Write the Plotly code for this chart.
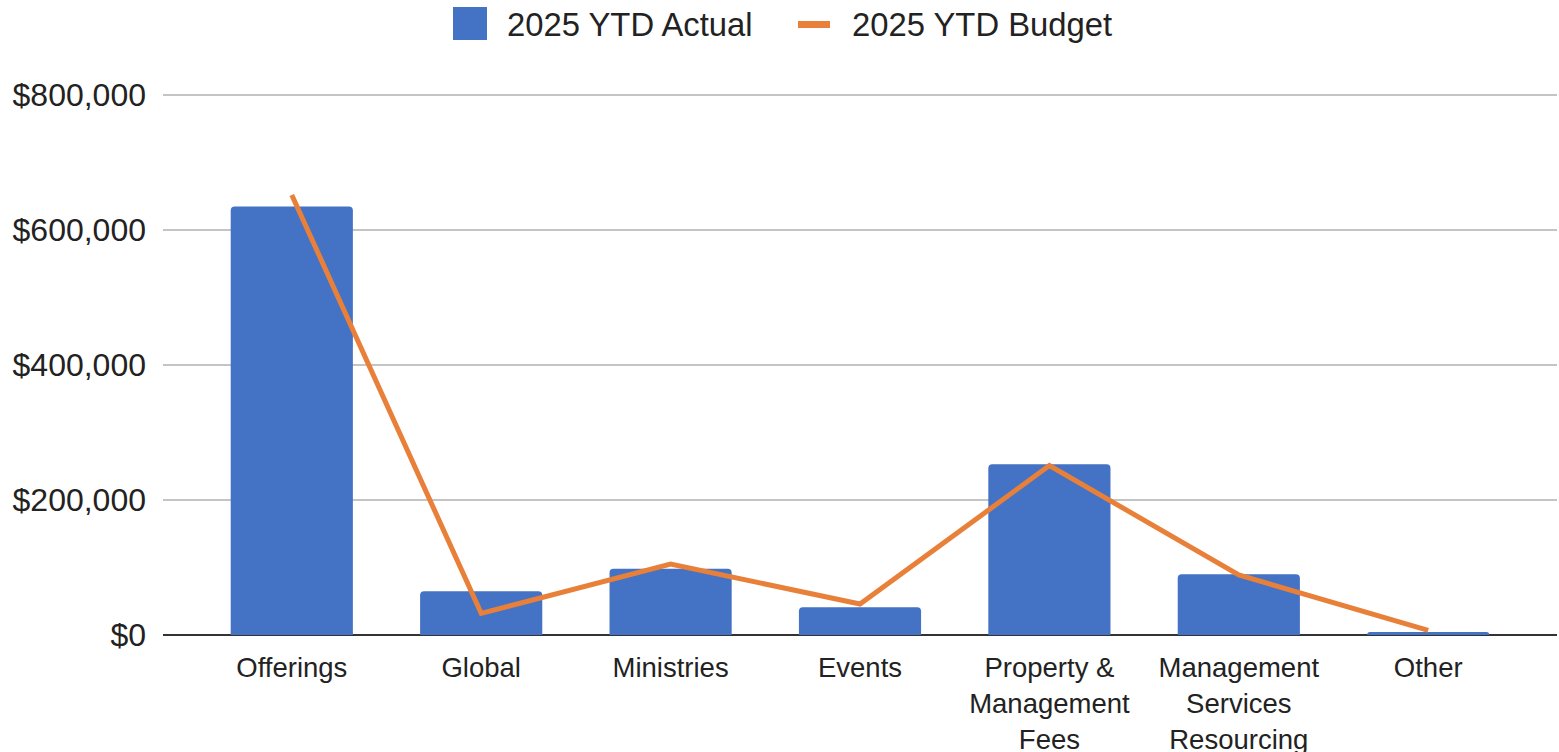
import plotly.graph_objects as go

categories = ["Offerings", "Global", "Ministries", "Events",
              "Property &<br>Management<br>Fees",
              "Management<br>Services<br>Resourcing", "Other"]
actual = [635000, 65000, 98000, 41000, 253000, 90000, 4500]
budget = [652000, 32000, 105000, 46000, 251000, 89000, 7000]
y_ticks = [0, 200000, 400000, 600000, 800000]
y_tick_labels = ["$0", "$200,000", "$400,000", "$600,000", "$800,000"]
series_names = ["2025 YTD Actual", "2025 YTD Budget"]

FONT = "Liberation Sans, Arial, sans-serif"
BLUE = "#4472C4"
ORANGE = "#E8803A"
W, H = 1559, 752
# plot area page positions: left 163, right 1557, top 93, bottom 635
ML, MT = 163, 93
MR = W - 1557
MB = H - 635
PW, PH = W - ML - MR, H - MT - MB


def px_x(p):
    # pixel -> paper coordinate
    return (p - ML) / PW


def px_y(p):
    return (H - MB - p) / PH


fig = go.Figure()
fig.add_trace(go.Bar(
    x=categories, y=actual, name=series_names[0],
    marker=dict(color=BLUE, line=dict(width=0)),
))
fig.add_trace(go.Scatter(
    x=categories, y=budget, name=series_names[1], mode="lines",
    line=dict(color=ORANGE, width=5),
))

# legend drawn manually (large swatches like the reference)
shapes = [
    dict(type="rect", xref="paper", yref="paper",
         x0=px_x(453), x1=px_x(487), y0=px_y(40), y1=px_y(7),
         fillcolor=BLUE, line=dict(width=0)),
    dict(type="rect", xref="paper", yref="paper",
         x0=px_x(798), x1=px_x(830), y0=px_y(28), y1=px_y(21),
         fillcolor=ORANGE, line=dict(width=0)),
]
annotations = [
    dict(text=series_names[0], xref="paper", yref="paper",
         x=px_x(505), y=px_y(25), xanchor="left", yanchor="middle",
         showarrow=False, font=dict(size=32.8, color="#222222")),
    dict(text=series_names[1], xref="paper", yref="paper",
         x=px_x(850), y=px_y(25), xanchor="left", yanchor="middle",
         showarrow=False, font=dict(size=32.8, color="#222222")),
]

fig.update_layout(
    width=W, height=H,
    margin=dict(l=ML, r=MR, t=MT, b=MB, autoexpand=False),
    plot_bgcolor="white", paper_bgcolor="white",
    font=dict(family=FONT, color="#222222"),
    bargap=0.355,
    barcornerradius=4,
    showlegend=False,
    shapes=shapes,
    annotations=annotations,
    xaxis=dict(
        range=[-0.68, 6.68],
        tickfont=dict(size=27.5, color="#222222"),
        showgrid=False, showline=False, automargin=False,
        ticks="outside", ticklen=8, tickcolor="rgba(0,0,0,0)",
    ),
    yaxis=dict(
        range=[0, 803000],
        tickvals=y_ticks, ticktext=y_tick_labels,
        tickfont=dict(size=32, color="#222222"),
        showgrid=True, gridcolor="#C4C4C4", gridwidth=2,
        zeroline=True, zerolinecolor="#333333", zerolinewidth=2,
        ticklabelstandoff=16, automargin=False,
    ),
)

fig.write_html(
    "out.html",
    config={"displayModeBar": False},
    post_script="document.body.style.margin='0';document.body.style.overflow='hidden';",
)
